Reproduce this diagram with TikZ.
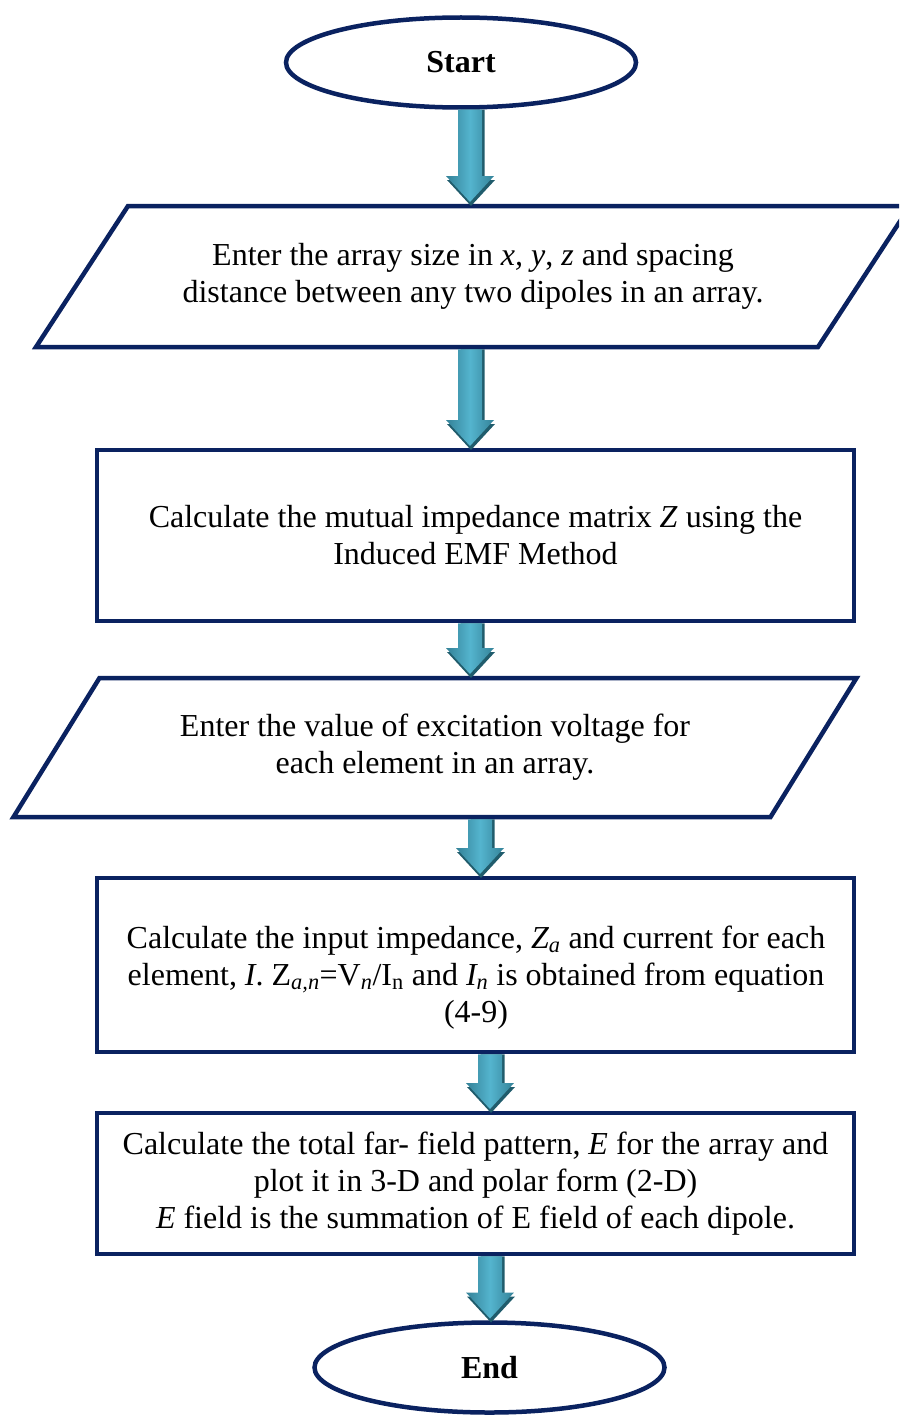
\documentclass[tikz,border=0pt]{standalone}
\usepackage{fontspec}
\setmainfont{Liberation Serif}
\usetikzlibrary{shapes.geometric,calc}

\definecolor{navy}{RGB}{10,34,96}
\definecolor{tealedge}{RGB}{52,130,152}
\definecolor{tealmid}{RGB}{84,180,206}
\definecolor{tealshadow}{RGB}{32,92,108}

\tikzset{
  outline/.style={draw=navy, line width=4.5pt, fill=white},
  ioline/.style={draw=navy, line width=4.5pt, line join=miter},
  terminal/.style={outline, ellipse, minimum width=350pt, minimum height=90pt,
    inner sep=0pt, outer sep=0pt, font=\fontsize{32}{37}\selectfont\bfseries},
  procbox/.style={outline, rectangle, minimum width=757pt, inner sep=0pt,
    outer sep=0pt, align=center, font=\fontsize{32}{37}\selectfont},
  iobody/.style={rectangle, inner sep=0pt, outer sep=0pt, align=center,
    font=\fontsize{32}{37}\selectfont},
  boxtext/.style={inner sep=0pt, align=center, font=\fontsize{32}{37}\selectfont},
}

% block arrow from the lower edge of #1 down to #2, shaft centred on x = #3
\newcommand\flowarrow[3]{%
  \fill[tealshadow] let \p1=(#1), \p2=(#2), \p3=(#3,0) in
    (\x3-9.5pt,\y1-2.25pt) -- (\x3+14.5pt,\y1-2.25pt) -- (\x3+14.5pt,\y2+26pt)
    -- (\x3+25pt,\y2+26pt) -- (\x3+1pt,\y2) -- (\x3-23pt,\y2+26pt)
    -- (\x3-9.5pt,\y2+26pt) -- cycle;
  \shade[left color=tealedge, right color=tealedge, middle color=tealmid]
    let \p1=(#1), \p2=(#2), \p3=(#3,0) in
    (\x3-12pt,\y1-2.25pt) -- (\x3+12pt,\y1-2.25pt) -- (\x3+12pt,\y2+30pt)
    -- (\x3+24pt,\y2+30pt) -- (\x3,\y2+4pt) -- (\x3-24pt,\y2+30pt)
    -- (\x3-12pt,\y2+30pt) -- cycle;
}

% parallelogram drawn around the body node #1, slanted by 2*#2
\newcommand\ioframe[2]{%
  \draw[ioline] ($(#1.north west)+(#2pt,0)$) -- ($(#1.north east)+(#2pt,0)$)
    -- ($(#1.south east)+(-#2pt,0)$) -- ($(#1.south west)+(-#2pt,0)$) -- cycle;
}

\begin{document}
\begin{tikzpicture}[x=1pt,y=-1pt]
  \clip (0,0) rectangle (899,1418);

  % terminals
  \node[terminal] (start) at (461,62.5) {Start};
  \node[terminal] (stop) at (489.5,1367.5) {End};

  % first input step
  \node[iobody, minimum width=782pt, minimum height=141pt] (in1) at (473,276.5)
    {Enter the array size in \textit{x, y}, \textit{z} and spacing\\
     distance between any two dipoles in an array.};
  \ioframe{in1}{46}

  % mutual impedance
  \node[procbox, minimum height=171pt] (calc1) at (475.5,535.5)
    {Calculate the mutual impedance matrix \textit{Z} using the\\
     Induced EMF Method};

  % second input step
  \node[iobody, minimum width=757pt, minimum height=139pt] (in2) at (435,747.5)
    {Enter the value of excitation voltage for\\
     each element in an array.};
  \ioframe{in2}{43}

  % input impedance and currents
  \node[procbox, minimum height=174pt] (calc2) at (475.5,965) {};
  \node[boxtext] (calc2text) at (476,978)
    {Calculate the input impedance, \textit{Z\textsubscript{a}} and current for each\\
     element, \textit{I}. Z\textsubscript{\textit{a,n}}=V\textsubscript{\textit{n}}/I\textsubscript{n}
     and \textit{I\textsubscript{n}} is obtained from equation\\
     (4-9)};

  % far field
  \node[procbox, minimum height=141pt] (calc3) at (475.5,1183.5)
    {Calculate the total far- field pattern, \textit{E} for the array and\\
     plot it in 3-D and polar form (2-D)\\
     \textit{E} field is the summation of E field of each dipole.};

  % connectors
  \flowarrow{start.south}{in1.north}{470}
  \flowarrow{in1.south}{calc1.north}{470}
  \flowarrow{calc1.south}{in2.north}{470}
  \flowarrow{in2.south}{calc2.north}{480}
  \flowarrow{calc2.south}{calc3.north}{490}
  \flowarrow{calc3.south}{stop.north}{490}
\end{tikzpicture}
\end{document}
